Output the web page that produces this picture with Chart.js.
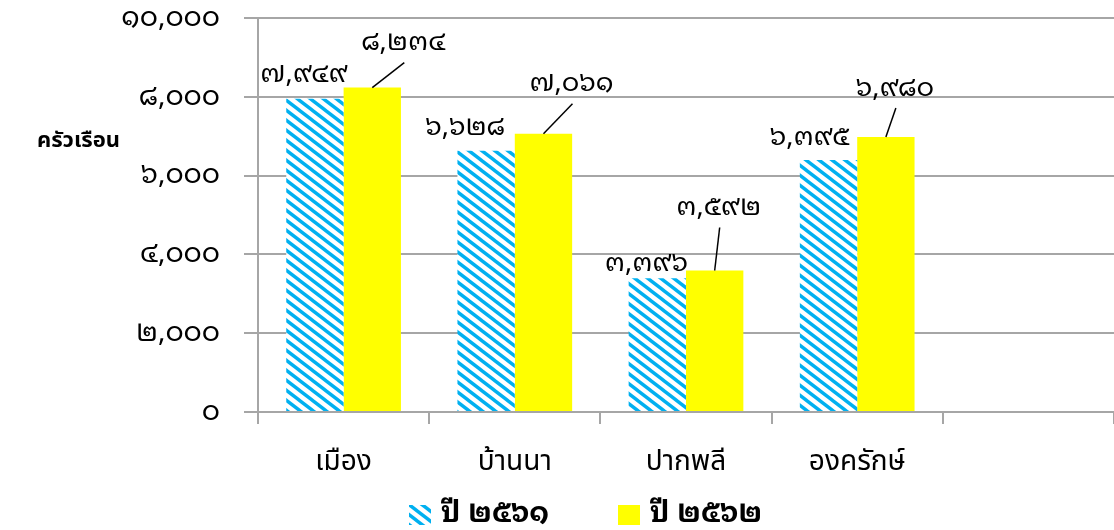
<!DOCTYPE html>
<html>
<head>
<meta charset="utf-8">
<script src="https://cdn.jsdelivr.net/npm/chart.js@4.4.0/dist/chart.umd.min.js"></script>
<style>
  html, body { margin: 0; padding: 0; background: #fff; }
  #wrap { width: 1114px; height: 530px; position: relative; }
</style>
</head>
<body>
<div id="wrap"><canvas id="chart"></canvas></div>
<script>
// ข้อมูลจำนวนครัวเรือน
const categories = ['เมือง', 'บ้านนา', 'ปากพลี', 'องครักษ์', ''];
const seriesNames = ['ปี ๒๕๖๑', 'ปี ๒๕๖๒'];
const values2561 = [7949, 6628, 3396, 6395, null];
const values2562 = [8234, 7061, 3592, 6980, null];
const yTicks = [0, 2000, 4000, 6000, 8000, 10000];
const yTitle = 'ครัวเรือน';

// ตำแหน่งป้ายค่า (เลื่อนจากยอดแท่ง)
const labelShift2561 = [[-11, -24], [-21, -23], [-11, -15], [-19, -23]];
const labelShift2562 = [[31, -45], [28, -50], [4, -63], [9, -49]];

const thaiFont = '"Noto Sans Thai Looped", "Noto Sans Thai", Loma, Garuda, "Noto Sans", sans-serif';
const catFont = '"Noto Sans Thai", "Noto Sans", Garuda, Loma, sans-serif';

const thaiDigits = '๐๑๒๓๔๕๖๗๘๙';
function toThai(n) {
    return n.toLocaleString('en-US').replace(/[0-9]/g, d => thaiDigits[d]);
}

// ลายเส้นทแยงสีฟ้า
function makeHatch() {
    const w = 13, h = 10;
    const c = document.createElement('canvas');
    c.width = w; c.height = h;
    const g = c.getContext('2d');
    g.fillStyle = '#ffffff';
    g.fillRect(0, 0, w, h);
    g.strokeStyle = '#00B0F0';
    g.lineWidth = 3.4;
    for (let k = -1; k <= 1; k++) {
        g.beginPath();
        g.moveTo(-w + k * w, -h);
        g.lineTo(2 * w + k * w, 2 * h);
        g.stroke();
    }
    return g.createPattern(c, 'repeat');
}
const hatch = makeHatch();
const fills = [hatch, '#FFFF00'];

const valueLabels = {
    id: 'valueLabels',
    afterDatasetsDraw(chart) {
        const ctx = chart.ctx;
        ctx.save();
        ctx.font = '27px ' + thaiFont;
        ctx.fillStyle = '#000';
        ctx.textAlign = 'center';
        ctx.textBaseline = 'middle';
        chart.data.datasets.forEach((ds, i) => {
            const meta = chart.getDatasetMeta(i);
            meta.data.forEach((bar, j) => {
                if (ds.data[j] == null) return;
                const shift = i === 0 ? labelShift2561[j] : labelShift2562[j];
                const lx = bar.x + shift[0];
                const ly = bar.y + shift[1];
                if (i === 1) {
                    ctx.strokeStyle = '#000';
                    ctx.lineWidth = 1.5;
                    ctx.beginPath();
                    ctx.moveTo(bar.x, bar.y);
                    ctx.lineTo(lx + 1, ly + 20);
                    ctx.stroke();
                }
                ctx.fillText(toThai(ds.data[j]), lx, ly);
            });
        });

        // ชื่อแกนตั้ง
        ctx.font = 'bold 22px ' + catFont;
        ctx.textAlign = 'left';
        ctx.fillText(yTitle, 37, 143);

        // คำอธิบายสัญลักษณ์
        const legendX = [409, 618];
        ctx.font = 'bold 29px ' + thaiFont;
        seriesNames.forEach((name, i) => {
            ctx.fillStyle = fills[i];
            ctx.fillRect(legendX[i], 505, 22, 20);
            ctx.fillStyle = '#000';
            ctx.fillText(name, legendX[i] + 32, 514);
        });
        ctx.restore();
    }
};

new Chart(document.getElementById('chart'), {
    type: 'bar',
    data: {
        labels: categories,
        datasets: [
            {
                label: seriesNames[0],
                data: values2561,
                backgroundColor: hatch,
                barPercentage: 1.0,
                categoryPercentage: 0.67
            },
            {
                label: seriesNames[1],
                data: values2562,
                backgroundColor: '#FFFF00',
                barPercentage: 1.0,
                categoryPercentage: 0.67
            }
        ]
    },
    options: {
        responsive: true,
        maintainAspectRatio: false,
        animation: false,
        layout: { padding: { left: 0, right: 0, top: 18, bottom: 0 } },
        scales: {
            x: {
                offset: true,
                afterFit(axis) {
                    axis.height = 118;
                    axis.paddingLeft = 0;
                    axis.paddingRight = 0;
                },
                grid: {
                    offset: true,
                    drawOnChartArea: false,
                    color: '#A6A6A6',
                    lineWidth: 2,
                    tickLength: 12
                },
                border: { color: '#A6A6A6', width: 2 },
                ticks: {
                    color: '#000',
                    padding: 24,
                    font: { family: catFont, size: 28 }
                }
            },
            y: {
                min: 0,
                max: 10000,
                afterBuildTicks(axis) {
                    axis.ticks = yTicks.map(v => ({ value: v }));
                },
                afterFit(axis) {
                    axis.width = 258;
                    axis.paddingTop = 0;
                    axis.paddingBottom = 0;
                },
                grid: {
                    color: '#A6A6A6',
                    lineWidth: 2,
                    tickLength: 14
                },
                border: { color: '#A6A6A6', width: 2 },
                ticks: {
                    color: '#000',
                    padding: 24,
                    font: { family: thaiFont, size: 28 },
                    callback: v => toThai(v)
                }
            }
        },
        plugins: {
            legend: { display: false },
            tooltip: { enabled: false }
        }
    },
    plugins: [valueLabels]
});
</script>
</body>
</html>
